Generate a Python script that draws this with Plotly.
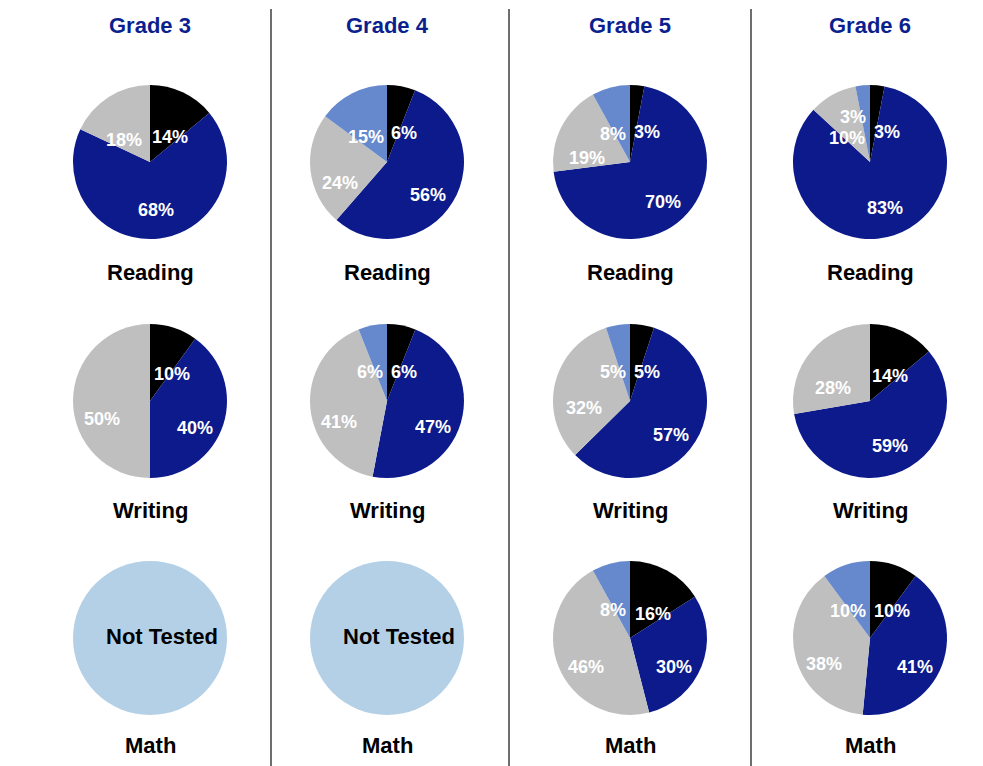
import math as m
import plotly.graph_objects as go

# ---- data ----
grades = ["Grade 3", "Grade 4", "Grade 5", "Grade 6"]
subjects = ["Reading", "Writing", "Math"]
levels = ["Level 1", "Level 2", "Level 3", "Level 4"]
reading = [[14, 68, 18, 0], [6, 56, 24, 15], [3, 70, 19, 8], [3, 83, 10, 3]]
writing = [[10, 40, 50, 0], [6, 47, 41, 6], [5, 57, 32, 5], [14, 59, 28, 0]]
math = [None, None, [16, 30, 46, 8], [10, 41, 38, 10]]
not_tested_label = "Not Tested"

# ---- styling / layout ----
OFF = 8                      # page body margin
W, H = 983 - OFF, 766 - OFF  # figure size
colors = ["#000000", "#0c1a8b", "#bfbfbf", "#6688cc"]
nt_color = "#b4d0e7"
navy = "#0c1f8f"
FONT = "Liberation Sans, Arial, sans-serif"
LBL = 18
col_x = [150, 387, 630, 870]
row_y = [162, 401, 638]
R = 77
title_y = 25
sub_y = [272, 510, 745]
dividers = [271, 509, 751]


def px(x):
    return (x - OFF) / W


def py(y):
    return 1 - (y - OFF) / H


def label_boxes(vals):
    """Place percentage labels inside the slices (Excel-like best fit)."""
    total = sum(vals)
    cum = 0
    out = []
    for v in vals:
        if v:
            frac = v / total
            theta = 2 * m.pi * (cum + v / 2) / total
            r = 0.62 * R
            dx = r * m.sin(theta)
            dy = -r * m.cos(theta) + 18 * min(1.0, 1 + m.cos(theta))
            txt = f"{v}%"
            w = (0.556 * (len(txt) - 1) + 0.889) * LBL
            if frac < 0.105 and m.cos(theta) > 0:
                if dx >= 0:
                    dx = max(dx, w / 2 + 4)
                else:
                    dx = min(dx, -w / 2 - 4)
            out.append(dict(v=v, txt=txt, dx=dx, dy=dy, w=w, h=LBL * 1.05))
        cum += v
    # resolve overlaps: move the smaller label up
    for _ in range(5):
        for i in range(len(out)):
            for j in range(len(out)):
                if i == j:
                    continue
                a, b = out[i], out[j]
                if a["v"] > b["v"] or (a["v"] == b["v"] and i > j):
                    continue
                ox = (a["w"] + b["w"]) / 2 - abs(a["dx"] - b["dx"])
                oy = (a["h"] + b["h"]) / 2 - abs(a["dy"] - b["dy"])
                if ox > 0 and oy > 0:
                    a["dy"] = b["dy"] - (a["h"] + b["h"]) / 2 - 2
    return out


fig = go.Figure()
annotations = []
data_rows = [reading, writing, math]
for ci, g in enumerate(grades):
    cx = col_x[ci]
    for ri, subj in enumerate(subjects):
        cy = row_y[ri]
        dom = dict(x=[px(cx - R), px(cx + R)], y=[py(cy + R), py(cy - R)])
        vals = data_rows[ri][ci]
        if vals is None:
            fig.add_trace(go.Pie(
                values=[1], labels=[not_tested_label], textinfo="none",
                marker=dict(colors=[nt_color], line=dict(width=0)),
                domain=dom, sort=False, showlegend=False, hoverinfo="label",
            ))
            annotations.append(dict(
                x=px(cx), y=py(cy), xref="paper", yref="paper", xshift=12, yshift=2,
                text=not_tested_label, showarrow=False, xanchor="center", yanchor="middle",
                font=dict(family=FONT, size=22, color="black", weight="bold")))
        else:
            fig.add_trace(go.Pie(
                values=vals, labels=levels, textinfo="none",
                marker=dict(colors=colors, line=dict(width=0)),
                domain=dom, sort=False, direction="clockwise", rotation=0,
                showlegend=False, hoverinfo="label+value",
            ))
            for b in label_boxes(vals):
                annotations.append(dict(
                    x=px(cx + b["dx"]), y=py(cy + b["dy"]), xref="paper", yref="paper",
                    text=b["txt"], showarrow=False, xanchor="center", yanchor="middle",
                    font=dict(family=FONT, size=LBL, color="white", weight="bold")))

for ci, g in enumerate(grades):
    annotations.append(dict(
        x=px(col_x[ci]), y=py(title_y), xref="paper", yref="paper",
        text=g, showarrow=False, xanchor="center", yanchor="middle",
        font=dict(family=FONT, size=22, color=navy, weight="bold")))
    for ri, subj in enumerate(subjects):
        annotations.append(dict(
            x=px(col_x[ci]), y=py(sub_y[ri]), xref="paper", yref="paper",
            text=subj, showarrow=False, xanchor="center", yanchor="middle",
            font=dict(family=FONT, size=22, color="black", weight="bold")))

shapes = [dict(type="line", xref="paper", yref="paper", x0=px(d), x1=px(d),
               y0=0, y1=py(9), line=dict(color="#6e6e6e", width=2)) for d in dividers]

fig.update_layout(
    width=W, height=H, margin=dict(l=0, r=0, t=0, b=0),
    paper_bgcolor="white", plot_bgcolor="white",
    annotations=annotations, shapes=shapes,
    font=dict(family=FONT),
)
fig.write_html("out.html")
